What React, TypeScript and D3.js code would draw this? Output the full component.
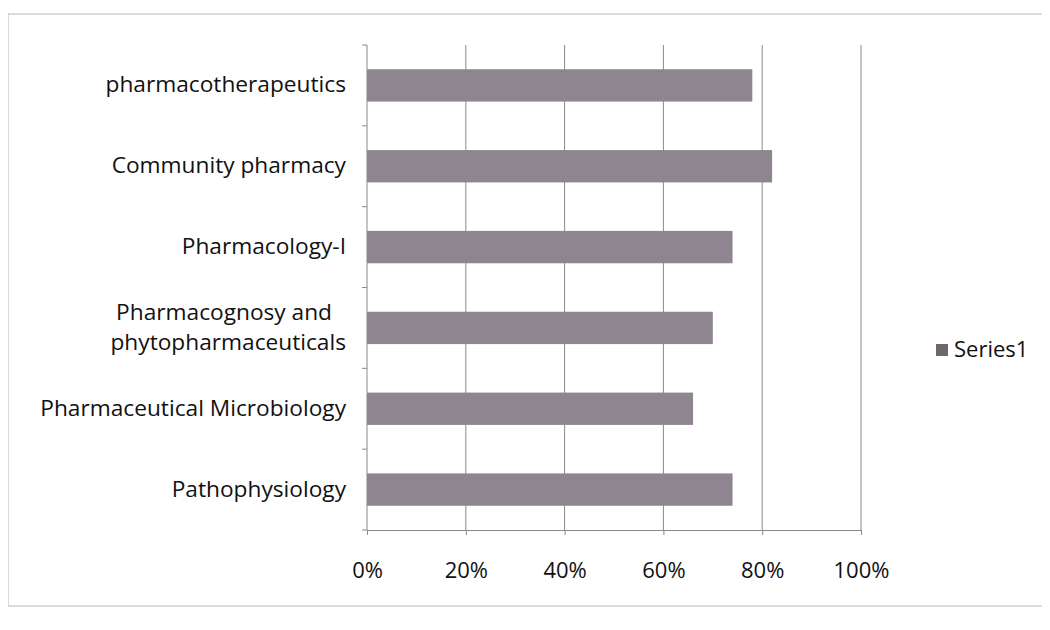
import React, { useEffect, useRef } from "react";
import * as d3 from "d3";

// subjects, top to bottom as in the chart
const subjects = [
  "pharmacotherapeutics",
  "Community pharmacy",
  "Pharmacology-I",
  "Pharmacognosy and phytopharmaceuticals",
  "Pharmaceutical Microbiology",
  "Pathophysiology",
];
const series1 = [0.78, 0.82, 0.74, 0.7, 0.66, 0.74];
const xTicks = [0, 0.2, 0.4, 0.6, 0.8, 1];
const seriesName = "Series1";

const W = 1050;
const H = 630;
const BAR = "#8f8590";
const FONT = "'Open Sans', Lato, sans-serif";

export default function App() {
  const ref = useRef<SVGSVGElement>(null);

  useEffect(() => {
    const svg = d3.select(ref.current);
    svg.selectAll("*").remove();

    const left = 367;
    const right = 861;
    const top = 45;
    const bottom = 530;

    // outer frame
    svg.append("rect")
      .attr("x", 8).attr("y", 14)
      .attr("width", W - 8).attr("height", 592)
      .attr("fill", "white")
      .attr("stroke", "#b8b8b8");

    const x = d3.scaleLinear().domain([0, 1]).range([left, right]);
    const y = d3.scaleBand().domain(subjects).range([top, bottom]).paddingInner(0.6).paddingOuter(0.3);

    const chart = svg.append("g");

    // vertical grid lines
    chart.append("g")
      .selectAll("line")
      .data(xTicks.slice(1))
      .enter().append("line")
      .attr("x1", d => x(d)).attr("x2", d => x(d))
      .attr("y1", top).attr("y2", bottom)
      .attr("stroke", "#8a8a8a")
      .attr("stroke-width", 1);

    // bars
    chart.selectAll("rect.bar")
      .data(series1)
      .enter().append("rect")
      .attr("class", "bar")
      .attr("x", x(0))
      .attr("y", (d, i) => y(subjects[i]) as number)
      .attr("width", d => x(d) - x(0))
      .attr("height", y.bandwidth())
      .attr("fill", BAR);

    // left axis with category boundary ticks
    const step = (bottom - top) / subjects.length;
    chart.append("line")
      .attr("x1", left).attr("x2", left)
      .attr("y1", top).attr("y2", bottom)
      .attr("stroke", "#8a8a8a");
    chart.append("g")
      .selectAll("line")
      .data(d3.range(subjects.length + 1))
      .enter().append("line")
      .attr("x1", left - 5).attr("x2", left)
      .attr("y1", i => top + i * step).attr("y2", i => top + i * step)
      .attr("stroke", "#8a8a8a");

    // bottom axis
    const xAxis = chart.append("g")
      .attr("transform", `translate(0, ${bottom})`)
      .call(d3.axisBottom(x).tickValues(xTicks).tickFormat(d3.format(".0%")).tickSize(5).tickPadding(27));
    xAxis.select(".domain").attr("stroke", "#8a8a8a");
    xAxis.selectAll(".tick line").attr("stroke", "#8a8a8a");
    xAxis.selectAll("text")
      .attr("font-family", FONT)
      .attr("font-size", 22)
      .attr("fill", "#111");

    // category labels
    const labels = chart.append("g");
    subjects.forEach((s, i) => {
      const cy = (y(s) as number) + y.bandwidth() / 2;
      const words = s === "Pharmacognosy and phytopharmaceuticals"
        ? ["Pharmacognosy and", "phytopharmaceuticals"]
        : [s];
      const t = labels.append("text")
        .attr("x", 346)
        .attr("text-anchor", "end")
        .attr("font-family", FONT)
        .attr("font-size", 22.7)
        .attr("fill", "#111");
      words.forEach((w, j) => {
        t.append("tspan")
          .attr("x", words.length > 1 && j === 0 ? 332 : 346)
          .attr("y", cy + 7 + (j - (words.length - 1) / 2) * 30)
          .text(w);
      });
    });

    // legend
    const lg = svg.append("g").attr("transform", "translate(936, 344)");
    lg.append("rect").attr("width", 12).attr("height", 12).attr("fill", "#6f6670");
    lg.append("text")
      .attr("x", 18).attr("y", 13)
      .attr("font-family", FONT)
      .attr("font-size", 22)
      .attr("fill", "#111")
      .text(seriesName);
  }, []);

  return <svg ref={ref} width={W} height={H} style={{ display: "block", margin: -8 }} />;
}
